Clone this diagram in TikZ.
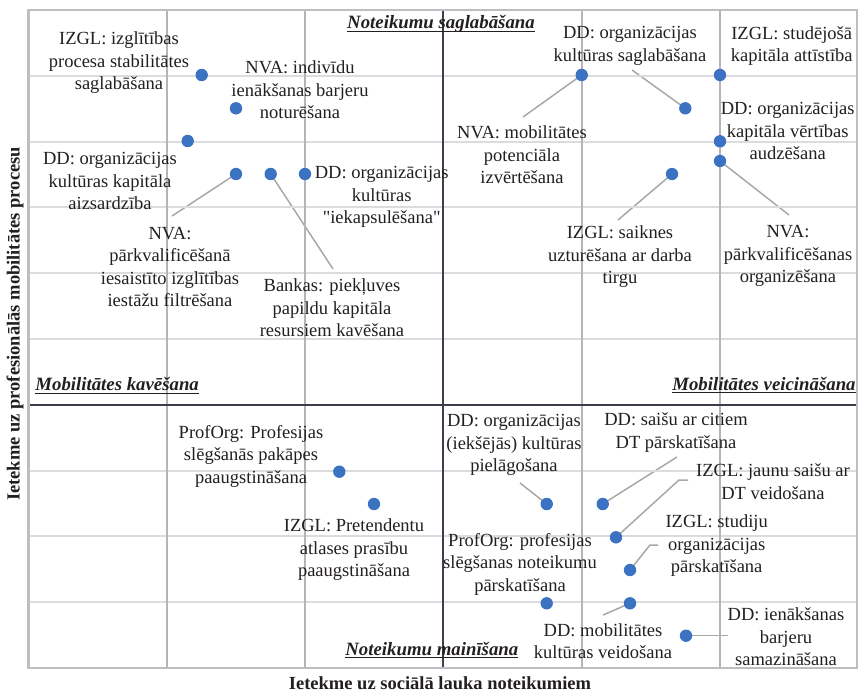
\documentclass[tikz,border=0pt]{standalone}
\usepackage{fontspec}
\setmainfont{Liberation Serif}[Ligatures=TeXOff]
\usetikzlibrary{backgrounds}
\definecolor{dotblue}{HTML}{3B73C2}
\definecolor{framegray}{HTML}{BDBDC2}
\definecolor{gridv}{HTML}{B4B4BA}
\definecolor{gridh}{HTML}{DCDCDE}
\definecolor{axisdark}{HTML}{3C3E4C}
\definecolor{leadgray}{HTML}{A8A8A8}
\definecolor{txt}{HTML}{231F20}
\newcommand\quadtitle[1]{\underline{\raisebox{0pt}[\height][0pt]{\bfseries\itshape #1}}}
\tikzset{
  dot/.style={circle,fill=dotblue,draw=none,minimum size=6.2pt,inner sep=0pt},
  lbl/.style={align=center,inner sep=0pt,text=txt,font=\fontsize{9.25}{11.25}\selectfont},
  qtitle/.style={inner sep=0pt,text=txt,font=\fontsize{9.4}{11.25}\selectfont},
  axtitle/.style={inner sep=0pt,text=txt,font=\fontsize{9.25}{11.25}\selectfont\bfseries},
  leader/.style={draw=leadgray,line width=0.75pt},
  vgrid/.style={draw=gridv,line width=0.8pt},
  hgrid/.style={draw=gridh,line width=1pt},
  axisline/.style={draw=axisdark,line width=1pt},
}
\begin{document}
\begin{tikzpicture}[x=0.5pt,y=-0.5pt]
\useasboundingbox (0,0) rectangle (858,691);

% grid
\foreach \yy in {75.8,141.6,207.4,273.2,339,470.6,536.4,602.2}
  \draw[hgrid] (28.5,\yy) -- (857,\yy);
\foreach \xx in {166.7,305,581.7,720}
  \draw[vgrid] (\xx,10) -- (\xx,668);
% axes
\draw[axisline] (28.5,404.8) -- (857,404.8);
\draw[axisline] (443.3,10) -- (443.3,668);
% frame
\draw[draw=framegray,line width=1.4pt] (28.5,10) rectangle (857,668);

% axis titles
\node[axtitle] (xtitle) at (440,683) {Ietekme uz sociālā lauka noteikumiem};
\node[axtitle,rotate=90] (ytitle) at (15,324) {Ietekme uz profesionālās mobilitātes procesu};

% quadrant titles
\node[qtitle,anchor=base] (qtop) at (441,28.5) {\quadtitle{Noteikumu saglabāšana}};
\node[qtitle,anchor=base west] (qleft) at (35,390.5) {\quadtitle{Mobilitātes kavēšana}};
\node[qtitle,anchor=base east] (qright) at (856,390) {\quadtitle{Mobilitātes veicināšana}};
\node[qtitle,anchor=base west] (qbottom) at (345,655) {\quadtitle{Noteikumu mainīšana}};

% data points
\node[dot] (d1) at (201.7,75) {};
\node[dot] (d2) at (236,108.3) {};
\node[dot] (d3) at (187.7,141) {};
\node[dot] (d4) at (236,174) {};
\node[dot] (d5) at (270.7,174) {};
\node[dot] (d6) at (305,174) {};
\node[dot] (d7) at (581.7,75) {};
\node[dot] (d8) at (685.3,108.3) {};
\node[dot] (d9) at (720,75) {};
\node[dot] (d10) at (720,141.3) {};
\node[dot] (d11) at (720,161) {};
\node[dot] (d12) at (672,174) {};
\node[dot] (d13) at (339.3,471.7) {};
\node[dot] (d14) at (374,504) {};
\node[dot] (d15) at (546.7,504) {};
\node[dot] (d16) at (602.7,504) {};
\node[dot] (d17) at (616,537.3) {};
\node[dot] (d18) at (630,570) {};
\node[dot] (d19) at (546.7,603.3) {};
\node[dot] (d20) at (630,603.3) {};
\node[dot] (d21) at (686,635.7) {};

% labels
\node[lbl] (l1) at (119,63) {IZGL: izglītības\\procesa stabilitātes\\saglabāšana};
\node[lbl] (l2) at (300,90) {NVA: indivīdu\\ienākšanas barjeru\\noturēšana};
\node[lbl] (l3) at (110,181) {DD: organizācijas\\kultūras kapitāla\\aizsardzība};
\node[lbl] (l4) at (170,267) {NVA:\\pārkvalificēšanā\\iesaistīto izglītības\\iestāžu filtrēšana};
\node[lbl] (l5) at (332,308) {Bankas: piekļuves\\papildu kapitāla\\resursiem kavēšana};
\node[lbl] (l6) at (381.7,197) {DD: organizācijas\\kultūras\\"iekapsulēšana"};
\node[lbl] (l7) at (522,155) {NVA: mobilitātes\\potenciāla\\izvērtēšana};
\node[lbl] (l8) at (630,46) {DD: organizācijas\\kultūras saglabāšana};
\node[lbl] (l9) at (791.7,46) {IZGL: studējošā\\kapitāla attīstība};
\node[lbl] (l10) at (787.7,131) {DD: organizācijas\\kapitāla vērtības\\audzēšana};
\node[lbl] (l11) at (788,256) {NVA:\\pārkvalificēšanas\\organizēšana};
\node[lbl] (l12) at (620,257) {IZGL: saiknes\\uzturēšana ar darba\\tirgu};
\node[lbl] (l13) at (251,456) {ProfOrg: Profesijas\\slēgšanās pakāpes\\paaugstināšana};
\node[lbl] (l14) at (354,550) {IZGL: Pretendentu\\atlases prasību\\paaugstināšana};
\node[lbl] (l15) at (514,445) {DD: organizācijas\\(iekšējās) kultūras\\pielāgošana};
\node[lbl] (l16) at (676,432.5) {DD: saišu ar citiem\\DT pārskatīšana};
\node[lbl] (l17) at (773,481.5) {IZGL: jaunu saišu ar\\DT veidošana};
\node[lbl] (l18) at (716.7,546) {IZGL: studiju\\organizācijas\\pārskatīšana};
\node[lbl] (l19) at (520,564) {ProfOrg: profesijas\\slēgšanas noteikumu\\pārskatīšana};
\node[lbl] (l20) at (603,641) {DD: mobilitātes\\kultūras veidošana};
\node[lbl] (l21) at (786,637) {DD: ienākšanas\\barjeru\\samazināšana};

% free ends of the leader lines
\coordinate (e4) at (172,216);
\coordinate (e5) at (333,269);
\coordinate (e7) at (523,117);
\coordinate (e8) at (632,70);
\coordinate (e11) at (789,215);
\coordinate (e12) at (618,220);
\coordinate (e15) at (520,483);
\coordinate (e16) at (677,457);
\coordinate (k17) at (679,480);
\coordinate (e17) at (688,480);
\coordinate (k18) at (650,545);
\coordinate (e18) at (658,545);
\coordinate (e20) at (603,615);
\coordinate (e21) at (728,635.7);

% leader lines, kept behind the points
\begin{scope}[on background layer]
\draw[leader] (d4.center) -- (e4);
\draw[leader] (d5.center) -- (e5);
\draw[leader] (d7.center) -- (e7);
\draw[leader] (d8.center) -- (e8);
\draw[leader] (d11.center) -- (e11);
\draw[leader] (d12.center) -- (e12);
\draw[leader] (d15.center) -- (e15);
\draw[leader] (d16.center) -- (e16);
\draw[leader] (d17.center) -- (k17) -- (e17);
\draw[leader] (d18.center) -- (k18) -- (e18);
\draw[leader] (d20.center) -- (e20);
\draw[leader] (d21.center) -- (e21);
\end{scope}
\end{tikzpicture}
\end{document}
